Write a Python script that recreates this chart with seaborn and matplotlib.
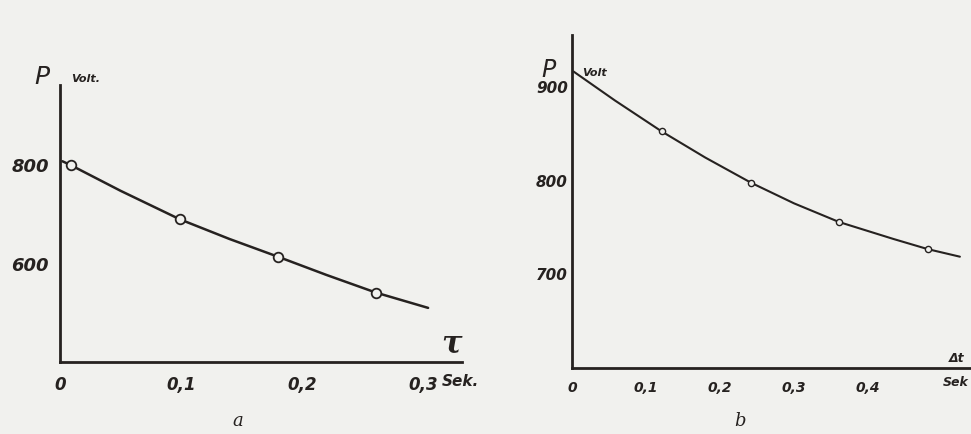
import matplotlib
matplotlib.use("Agg")
import matplotlib.pyplot as plt
import seaborn as sns
import pandas as pd

# Panel a: measured points and the drawn curve (time in s, voltage in V)
a_point_t = [0.009, 0.099, 0.180, 0.261]
a_point_p = [800, 690, 614, 541]
a_curve_t = [0.002, 0.009, 0.050, 0.099, 0.140, 0.180, 0.220, 0.261, 0.304]
a_curve_p = [808, 800, 748, 690, 650, 614, 577, 541, 510]
a_xticks = [0, 0.1, 0.2, 0.3]
a_xticklabels = ["0", "0,1", "0,2", "0,3"]
a_yticks = [600, 800]
a_yticklabels = ["600", "800"]

# Panel b
b_point_t = [0.121, 0.242, 0.361, 0.481]
b_point_p = [853, 798, 756, 727]
b_curve_t = [0.002, 0.058, 0.121, 0.180, 0.242, 0.300, 0.361, 0.434, 0.481, 0.524]
b_curve_p = [917, 886, 853, 825, 798, 776, 756, 738, 727, 719]
b_xticks = [0, 0.1, 0.2, 0.3, 0.4]
b_xticklabels = ["0", "0,1", "0,2", "0,3", "0,4"]
b_yticks = [700, 800, 900]
b_yticklabels = ["700", "800", "900"]

sns.set_theme(style="white")
plt.rcParams["font.family"] = ["DejaVu Sans"]

INK = "#262220"
BG = "#f1f1ee"
W, H = 971, 434

fig = plt.figure(figsize=(W / 100, H / 100), dpi=100, facecolor=BG)


def axes_px(left, top, right, bottom):
    return fig.add_axes([left / W, 1 - bottom / H, (right - left) / W, (bottom - top) / H])


def text_px(x, y, s, **kw):
    fig.text(x / W, 1 - y / H, s, color=INK, **kw)


def style_axes(ax, xticks, xlabels, yticks, ylabels, fs_x, fs_y, padx, pady):
    ax.set_facecolor("none")
    for side in ("top", "right"):
        ax.spines[side].set_visible(False)
    for side in ("left", "bottom"):
        ax.spines[side].set_color(INK)
        ax.spines[side].set_linewidth(2.0)
    ax.set_xticks(xticks)
    ax.set_xticklabels(xlabels, fontsize=fs_x, style="italic", fontweight="bold", color=INK)
    ax.set_yticks(yticks)
    ax.set_yticklabels(ylabels, fontsize=fs_y, style="italic", fontweight="bold", color=INK)
    ax.tick_params(axis="x", length=0, pad=padx)
    ax.tick_params(axis="y", length=0, pad=pady)
    ax.set_xlabel("")
    ax.set_ylabel("")
    ax.grid(False)


# ---- panel a ----
ax_a = axes_px(60, 85, 462, 362)
df_a_curve = pd.DataFrame({"t": a_curve_t, "P": a_curve_p})
df_a_pts = pd.DataFrame({"t": a_point_t, "P": a_point_p})
sns.lineplot(data=df_a_curve, x="t", y="P", ax=ax_a, color=INK, linewidth=1.8,
             sort=True, estimator=None)
sns.scatterplot(data=df_a_pts, x="t", y="P", ax=ax_a, s=48, marker="o",
                facecolor=BG, edgecolor=INK, linewidth=1.3, zorder=5, clip_on=False)
ax_a.set_xlim(0, 0.332)
ax_a.set_ylim(400, 963)
style_axes(ax_a, a_xticks, a_xticklabels, a_yticks, a_yticklabels, 12, 13, 10, 8)

text_px(442, 381, "Sek.", fontsize=11, style="italic", fontweight="bold", va="center", ha="left")
text_px(451, 344, "τ", fontsize=22, style="italic", family="DejaVu Serif",
        fontweight="bold", va="center", ha="center")
text_px(42, 77, "P", fontsize=18, style="italic", va="center", ha="center")
text_px(71, 79, "Volt.", fontsize=8, style="italic", fontweight="bold", va="center", ha="left")
text_px(238, 421, "a", fontsize=13, style="italic", family="DejaVu Serif", va="center", ha="center")

# ---- panel b ----
ax_b = axes_px(572, 35, 971, 368)
df_b_curve = pd.DataFrame({"t": b_curve_t, "P": b_curve_p})
df_b_pts = pd.DataFrame({"t": b_point_t, "P": b_point_p})
sns.lineplot(data=df_b_curve, x="t", y="P", ax=ax_b, color=INK, linewidth=1.5,
             sort=True, estimator=None)
sns.scatterplot(data=df_b_pts, x="t", y="P", ax=ax_b, s=20, marker="o",
                facecolor=BG, edgecolor=INK, linewidth=1.0, zorder=5, clip_on=False)
ax_b.set_xlim(0, 0.539)
ax_b.set_ylim(600, 956)
style_axes(ax_b, b_xticks, b_xticklabels, b_yticks, b_yticklabels, 10, 11, 9, 3)

text_px(956, 383, "Sek", fontsize=9, style="italic", fontweight="bold", va="center", ha="center")
text_px(957, 358, "Δt", fontsize=9, style="italic", fontweight="bold", va="center", ha="center")
text_px(548, 70, "P", fontsize=17, style="italic", va="center", ha="center")
text_px(582, 73, "Volt", fontsize=8, style="italic", fontweight="bold", va="center", ha="left")
text_px(740, 421, "b", fontsize=13, style="italic", family="DejaVu Serif", va="center", ha="center")

fig.savefig("out.png", dpi=100, facecolor=BG)
